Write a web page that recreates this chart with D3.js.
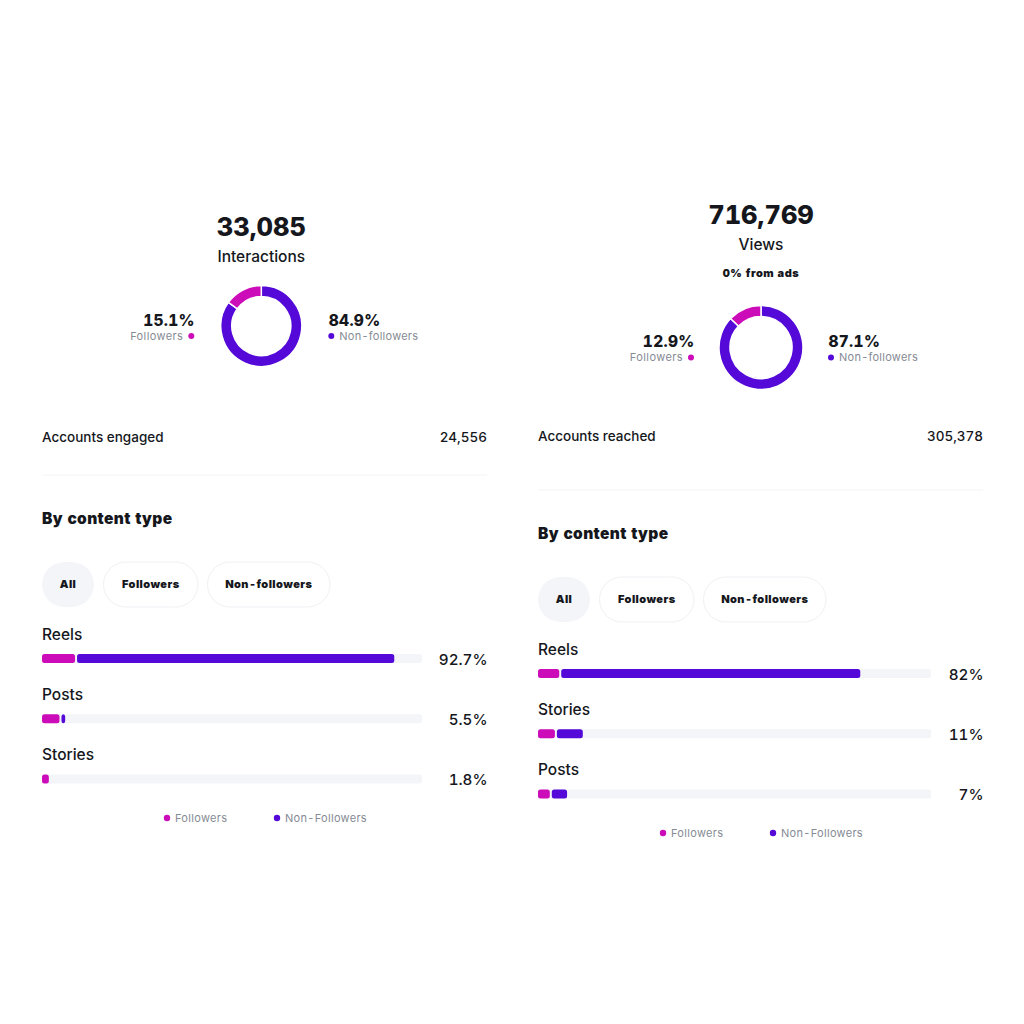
<!DOCTYPE html>
<html>
<head>
<meta charset="utf-8">
<script src="https://cdn.jsdelivr.net/npm/d3@7"></script>
<style>
  html, body { margin: 0; padding: 0; background: #fff; }
  svg { display: block; }
  text { font-family: Inter, "Noto Sans", sans-serif; font-variant-numeric: tabular-nums; }
</style>
</head>
<body>
<svg id="chart" width="1024" height="1024"></svg>
<script>
const segments = ['Followers', 'Non-followers']
const filters = ['All', 'Followers', 'Non-followers']
const legendLabels = ['Followers', 'Non-Followers']

// left panel
const leftTotal = '33,085'
const leftMetric = 'Interactions'
const leftShare = [15.1, 84.9]
const leftAccountsLabel = 'Accounts engaged'
const leftAccounts = '24,556'
const leftTypes = ['Reels', 'Posts', 'Stories']
const leftTotals = ['92.7%', '5.5%', '1.8%']
const leftFollowers = [8.7, 4.6, 1.8]
const leftNonFollowers = [84, 1.5, 0]

// right panel
const rightTotal = '716,769'
const rightMetric = 'Views'
const rightNote = '0% from ads'
const rightShare = [12.9, 87.1]
const rightAccountsLabel = 'Accounts reached'
const rightAccounts = '305,378'
const rightTypes = ['Reels', 'Stories', 'Posts']
const rightTotals = ['82%', '11%', '7%']
const rightFollowers = [5.4, 4.3, 3]
const rightNonFollowers = [76.6, 7.1, 4.4]

const pink = '#cc0cb8'
const purple = '#5409d8'
const ink = '#15171c'
const grey = '#868b94'
const track = '#f3f5f8'

const color = d3.scaleOrdinal().domain(segments).range([pink, purple])
const svg = d3.select('#chart')

function label(g, x, y, str, size, weight, fill, anchor, spacing) {
  return g.append('text')
    .attr('x', x)
    .attr('y', y)
    .attr('font-size', size)
    .attr('font-weight', weight)
    .attr('fill', fill)
    .attr('text-anchor', anchor || 'start')
    .attr('letter-spacing', spacing || 0)
    .text(str)
}

function donut(g, p) {
  const pie = d3.pie().sort(null).value(d => d.value)
  const arc = d3.arc().innerRadius(p.r - 10.5).outerRadius(p.r + 0.5)
  // non-followers run clockwise from the top, followers close the ring
  const slices = [
    { name: segments[1], value: p.share[1] },
    { name: segments[0], value: p.share[0] }
  ]
  g.append('g')
    .attr('transform', `translate(${p.cx},${p.cy})`)
    .selectAll('path')
    .data(pie(slices))
    .enter().append('path')
    .attr('d', arc)
    .attr('fill', d => color(d.data.name))
    .attr('stroke', '#fff')
    .attr('stroke-width', 1.5)

  label(g, p.cx - 66.5, p.cy - 0.5, p.share[0].toFixed(1) + '%', 15.5, 800, ink, 'end', 0.3)
  label(g, p.cx - 78, p.cy + 13.5, segments[0], 11, 400, grey, 'end', 0.4)
  g.append('circle').attr('cx', p.cx - 70).attr('cy', p.cy + 10).attr('r', 3).attr('fill', pink)

  label(g, p.cx + 67.5, p.cy - 0.5, p.share[1].toFixed(1) + '%', 15.5, 800, ink, 'start', 0.3)
  label(g, p.cx + 78, p.cy + 13.5, segments[1], 11, 400, grey, 'start', 0.25)
  g.append('circle').attr('cx', p.cx + 70).attr('cy', p.cy + 10).attr('r', 3).attr('fill', purple)
}

function filterPills(g, x0, y) {
  const widths = [52, 94.5, 122.5]
  let x = x0
  filters.forEach((f, i) => {
    g.append('rect')
      .attr('x', x).attr('y', y)
      .attr('width', widths[i]).attr('height', 45)
      .attr('rx', 22.5)
      .attr('fill', i == 0 ? track : '#fff')
      .attr('stroke', i == 0 ? 'none' : '#f0f1f4')
    label(g, x + widths[i] / 2, y + 26, f, 11, 900, ink, 'middle', 0.42)
    x += widths[i] + 9.5
  })
}

function bars(g, p) {
  const x = d3.scaleLinear().domain([0, 100]).range([p.x0, p.x1])
  const y = d3.scalePoint().domain(p.types).range([p.barTop, p.barBottom])
  const rows = p.types.map((t, i) => ({
    type: t, total: p.totals[i], followers: p.followers[i], non: p.non[i]
  }))

  const row = g.selectAll('.row').data(rows).enter().append('g').attr('class', 'row')

  row.append('text')
    .attr('x', p.x0).attr('y', d => y(d.type) - 19)
    .attr('font-size', 15.5).attr('font-weight', 500).attr('fill', ink)
    .text(d => d.type)

  row.append('rect')
    .attr('x', x(0)).attr('y', d => y(d.type) - 4.5)
    .attr('width', x(100) - x(0)).attr('height', 9)
    .attr('rx', 2).attr('fill', track)

  row.append('rect')
    .attr('x', x(0)).attr('y', d => y(d.type) - 4.5)
    .attr('width', d => x(d.followers) - x(0)).attr('height', 9)
    .attr('rx', 2.5).attr('fill', pink)

  row.filter(d => d.non > 0).append('rect')
    .attr('x', d => x(d.followers) + 2).attr('y', d => y(d.type) - 4.5)
    .attr('width', d => x(d.followers + d.non) - x(d.followers) - 2).attr('height', 9)
    .attr('rx', 2.5).attr('fill', purple)

  row.append('text')
    .attr('x', p.right + 0.5).attr('y', d => y(d.type) + 6)
    .attr('font-size', 15.2).attr('font-weight', 500).attr('fill', ink)
    .attr('text-anchor', 'end')
    .text(d => d.total)
}

function legend(g, x0, y) {
  const cols = [0, 110]
  legendLabels.forEach((l, i) => {
    g.append('circle').attr('cx', x0 + cols[i]).attr('cy', y).attr('r', 3.2).attr('fill', i == 0 ? pink : purple)
    label(g, x0 + cols[i] + 8, y + 4, l, 11, 400, grey, 'start', 0.3)
  })
}

function panel(p) {
  const g = svg.append('g')
  label(g, p.cx, p.totalY, p.total, 25.5, 800, ink, 'middle')
  label(g, p.cx, p.totalY + 25.5, p.metric, 15.5, 500, ink, 'middle')
  if (p.note) label(g, p.cx, p.totalY + 53, p.note, 11, 900, ink, 'middle', 0.5)

  donut(g, p)

  label(g, p.x0, p.accountsY, p.accountsLabel, 13.5, 500, ink)
  label(g, p.right, p.accountsY, p.accounts, 13.5, 500, ink, 'end')

  g.append('line')
    .attr('x1', p.x0).attr('x2', p.right)
    .attr('y1', p.dividerY).attr('y2', p.dividerY)
    .attr('stroke', '#f3f4f6')

  label(g, p.x0, p.dividerY + 49, 'By content type', 15.5, 900, ink, 'start', 0.35)
  filterPills(g, p.x0, p.dividerY + 87)
  bars(g, p)
  legend(g, p.legendX, p.legendY)
}

panel({
  total: leftTotal, metric: leftMetric, share: leftShare,
  accountsLabel: leftAccountsLabel, accounts: leftAccounts,
  types: leftTypes, totals: leftTotals, followers: leftFollowers, non: leftNonFollowers,
  cx: 261.3, cy: 326, r: 40, totalY: 236, accountsY: 442, dividerY: 475,
  x0: 42, x1: 422, right: 487, barTop: 658.5, barBottom: 779,
  legendX: 167, legendY: 818
})

panel({
  total: rightTotal, metric: rightMetric, note: rightNote, share: rightShare,
  accountsLabel: rightAccountsLabel, accounts: rightAccounts,
  types: rightTypes, totals: rightTotals, followers: rightFollowers, non: rightNonFollowers,
  cx: 761, cy: 347.5, r: 41.5, totalY: 224, accountsY: 441, dividerY: 490,
  x0: 538, x1: 931, right: 983, barTop: 673.5, barBottom: 794,
  legendX: 663, legendY: 833
})
</script>
</body>
</html>
